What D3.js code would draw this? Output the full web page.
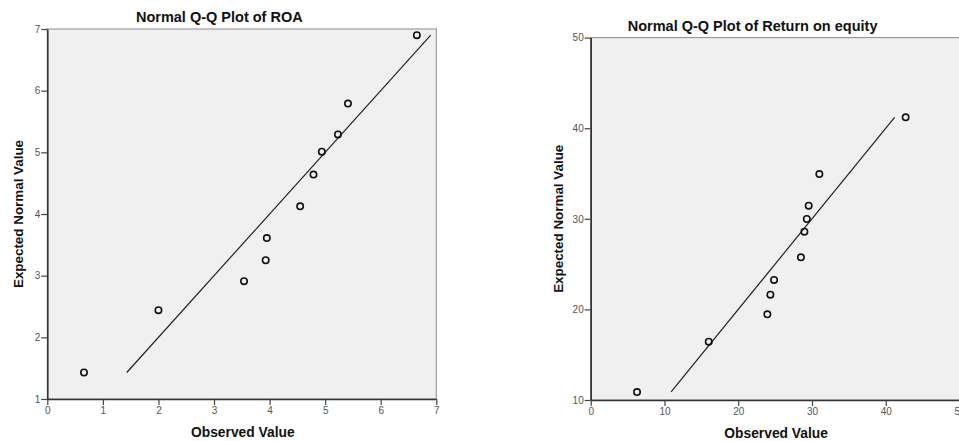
<!DOCTYPE html>
<html>
<head>
<meta charset="utf-8">
<script src="https://cdn.jsdelivr.net/npm/d3@7"></script>
<style>
  html, body { margin: 0; padding: 0; background: #fff; }
  svg { display: block; }
  text { font-family: Arial, "Liberation Sans", sans-serif; }
</style>
</head>
<body>
<svg id="chart" width="959" height="441"></svg>
<script>
// ---- Data ----
const roaObserved = [0.66, 2.00, 3.54, 3.93, 3.95, 4.55, 4.79, 4.94, 5.23, 5.41, 6.65];
const roaExpected = [1.43, 2.44, 2.91, 3.25, 3.61, 4.125, 4.64, 5.01, 5.29, 5.79, 6.90];
const roaLine = [1.43, 6.90];
const roaXTicks = [0, 1, 2, 3, 4, 5, 6, 7];
const roaYTicks = [1, 2, 3, 4, 5, 6, 7];

const roeObserved = [6.28, 16.0, 23.95, 24.36, 24.86, 28.5, 28.97, 29.3, 29.55, 31.0, 42.7];
const roeExpected = [10.88, 16.44, 19.46, 21.62, 23.25, 25.75, 28.58, 29.98, 31.45, 34.94, 41.2];
const roeLine = [10.9, 41.2];
const roeXTicks = [0, 10, 20, 30, 40, 50];
const roeYTicks = [10, 20, 30, 40, 50];

const titles = ["Normal Q-Q Plot of ROA", "Normal Q-Q Plot of Return on equity"];
const xTitle = "Observed Value";
const yTitle = "Expected Normal Value";

// ---- Drawing ----
const svg = d3.select("#chart");

function panel(cfg) {
  const x = d3.scaleLinear().domain(cfg.xDomain).range(cfg.xRange);
  const y = d3.scaleLinear().domain(cfg.yDomain).range(cfg.yRange);
  const g = svg.append("g");

  // plot frame
  g.append("rect")
    .attr("x", cfg.xRange[0]).attr("y", cfg.yRange[1])
    .attr("width", cfg.xRange[1] - cfg.xRange[0])
    .attr("height", cfg.yRange[0] - cfg.yRange[1])
    .attr("fill", "#f0f0f0")
    .attr("stroke", "#8a8a8a").attr("stroke-width", 1);

  // axes
  const xAxis = g.append("g")
    .attr("transform", `translate(0,${cfg.yRange[0]})`)
    .call(d3.axisBottom(x).tickValues(cfg.xTicks).tickSize(6).tickSizeOuter(0).tickPadding(2).tickFormat(d3.format("d")));
  const yAxis = g.append("g")
    .attr("transform", `translate(${cfg.xRange[0]},0)`)
    .call(d3.axisLeft(y).tickValues(cfg.yTicks).tickSize(6).tickSizeOuter(0).tickPadding(1).tickFormat(d3.format("d")));
  [xAxis, yAxis].forEach(a => {
    a.select(".domain").attr("stroke", "#333").attr("stroke-width", 1.6);
    a.selectAll(".tick line").attr("stroke", "#444").attr("stroke-width", 1.2);
    a.selectAll(".tick text").attr("fill", "#555").style("font-size", "10px")
      .style("font-family", "Arial, 'Liberation Sans', sans-serif");
  });

  // reference line
  g.append("line")
    .attr("x1", x(cfg.line[0])).attr("y1", y(cfg.line[0]))
    .attr("x2", x(cfg.line[1])).attr("y2", y(cfg.line[1]))
    .attr("stroke", "#222").attr("stroke-width", 1.2);

  // points
  g.selectAll("circle.pt")
    .data(cfg.obs.map((o, i) => [o, cfg.exp[i]]))
    .enter().append("circle")
    .attr("class", "pt")
    .attr("cx", d => x(d[0])).attr("cy", d => y(d[1]))
    .attr("r", 3.2)
    .attr("fill", "none").attr("stroke", "#111").attr("stroke-width", 1.6);

  // titles
  const cx = (cfg.xRange[0] + cfg.xRange[1]) / 2;
  g.append("text")
    .attr("x", cx - 22.5).attr("y", cfg.yRange[1] - 7)
    .attr("text-anchor", "middle")
    .style("font-size", "14.5px").style("font-weight", "bold").attr("fill", "#111")
    .text(cfg.title);
  g.append("text")
    .attr("x", cx + 1).attr("y", cfg.yRange[0] + 38)
    .attr("text-anchor", "middle")
    .style("font-size", "13.8px").style("font-weight", "bold").attr("fill", "#111")
    .text(xTitle);
  const cy = (cfg.yRange[0] + cfg.yRange[1]) / 2;
  g.append("text")
    .attr("transform", `translate(${cfg.yLabelX},${cy}) rotate(-90)`)
    .attr("text-anchor", "middle")
    .style("font-size", "13.4px").style("font-weight", "bold").attr("fill", "#111")
    .text(yTitle);
}

panel({
  xDomain: [0, 7], xRange: [47.3, 436.3],
  yDomain: [1, 7], yRange: [399, 29],
  xTicks: roaXTicks, yTicks: roaYTicks,
  obs: roaObserved, exp: roaExpected, line: roaLine,
  title: titles[0], yLabelX: 22.5
});

panel({
  xDomain: [0, 50], xRange: [590.7, 959.5],
  yDomain: [10, 50], yRange: [400, 37.6],
  xTicks: roeXTicks, yTicks: roeYTicks,
  obs: roeObserved, exp: roeExpected, line: roeLine,
  title: titles[1], yLabelX: 562.5
});
</script>
</body>
</html>
